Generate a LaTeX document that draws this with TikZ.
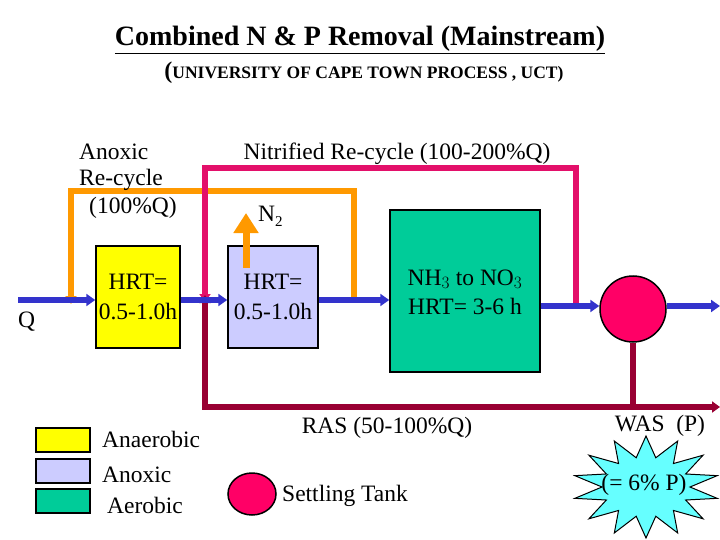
\documentclass[tikz,border=0pt]{standalone}
\usepackage{fontspec}
\setmainfont{Liberation Serif}
\usetikzlibrary{arrows.meta,shapes.geometric}
\definecolor{flowblue}{HTML}{3333CC}
\definecolor{recyorange}{HTML}{FF9900}
\definecolor{nitpink}{HTML}{E3106A}
\definecolor{rasred}{HTML}{990033}
\definecolor{anayellow}{HTML}{FFFF00}
\definecolor{anoxlav}{HTML}{CCCCFF}
\definecolor{aerogreen}{HTML}{00CC99}
\definecolor{tankpink}{HTML}{FF0066}
\definecolor{starcyan}{HTML}{66FFFF}
\begin{document}
\begin{tikzpicture}[x=1pt,y=-1pt,
  txt/.style={font=\fontsize{23.5}{29}\selectfont, inner sep=0pt, align=center},
  tank/.style={draw=black, line width=1.5pt, inner sep=0pt, align=center, font=\fontsize{23.5}{30}\selectfont},
  legbox/.style={draw=black, line width=1.5pt, minimum width=54pt, minimum height=24pt, inner sep=0pt},
  flow/.style={draw=flowblue, line width=6pt, -{Triangle[length=9pt,width=12pt]}},
  pipe/.style={line width=6pt}]
\useasboundingbox (0,0) rectangle (720,540);

% title
\node[inner sep=0pt] (title) at (360,40) {\fontsize{28}{28}\selectfont\bfseries\underline{Combined N \& P Removal (Mainstream)}};
\node[inner sep=0pt] (subtitle) at (364,73) {\bfseries{\fontsize{24}{24}\selectfont(}{\fontsize{17.5}{17.5}\selectfont UNIVERSITY OF CAPE TOWN PROCESS , UCT)}};

% tanks
\node[tank, fill=anayellow, minimum width=84pt, minimum height=102pt] (ana) at (138,297) {HRT=\\0.5-1.0h};
\node[tank, fill=anoxlav, minimum width=90pt, minimum height=102pt] (anox) at (273,297) {HRT=\\0.5-1.0h};
\node[tank, fill=aerogreen, minimum width=150pt, minimum height=162pt] (aero) at (465,291) {};
\node[txt] (aerotxt) at (465,292) {NH$_3$ to NO$_3$\\HRT= 3-6 h};
\node[circle, draw=black, line width=1.5pt, fill=tankpink, minimum size=66pt, inner sep=0pt] (clar) at (633,309) {};

% junction coordinates
\coordinate (qin) at (18,300);
\coordinate (jr) at (205,300);
\coordinate (jo) at (71,300);
\coordinate (orstart) at (354,300);
\coordinate (pkstart) at (576,306);
\coordinate (rasturn) at (633,407);
\coordinate (out) at (720,306);
\coordinate (wasout) at (720,407);

% recycle lines (drawn first)
\draw[pipe, draw=recyorange, -{Triangle[length=8pt,width=11pt]}] (orstart) -- (354,191) -- (71,191) -- ([yshift=-4pt]jo);
\draw[pipe, draw=nitpink, -{Triangle[length=8pt,width=11pt]}] (pkstart) -- (576,168) -- (205,168) -- ([yshift=-2pt]jr);
\draw[pipe, draw=rasred, -{Triangle[length=8pt,width=11pt]}] (clar.south) -- (rasturn) -- (205,407) -- ([yshift=5pt]jr);
\draw[pipe, draw=rasred, -{Triangle[length=8pt,width=11pt]}] (rasturn) -- (wasout);

% main flow
\draw[flow] (qin) -- (ana.west |- qin);
\draw[flow] (ana.east |- jr) -- (anox.west |- jr);
\draw[flow] (anox.east |- orstart) -- (aero.west |- orstart);
\draw[flow] (aero.east |- pkstart) -- (clar.west |- pkstart);
\draw[flow] (clar.east |- out) -- (out);

% N2 arrow
\coordinate (n2base) at (246,268);
\coordinate (n2tip) at (246,213);
\draw[draw=recyorange, line width=7pt, -{Triangle[length=20pt,width=24pt]}] (n2base) -- (n2tip);
\node[txt, anchor=west] (n2) at (258,216) {N\raisebox{-0.45ex}{\fontsize{15}{15}\selectfont 2}};

% labels
\node[txt, anchor=west] (q) at (18,322) {Q};
\node[txt, anchor=west] (ar1) at (79,152) {Anoxic};
\node[txt, anchor=west] (ar2) at (79,180) {Re-cycle};
\node[txt, anchor=west] (ar3) at (89,208) {(100\%Q)};
\node[txt] (nit) at (397,154) {Nitrified Re-cycle (100-200\%Q)};
\node[txt] (ras) at (387,428) {RAS (50-100\%Q)};
\node[txt] (was) at (660,426) {WAS\ \ (P)};

% star
\fill[starcyan, draw=black, line width=1pt]
  plot[samples=29, domain=0:28, variable=\k]
  ({646+(44+29*(1-mod(\k,2)))*cos(90+\k*360/28)},{487+(30+21*(1-mod(\k,2)))*sin(90+\k*360/28)}) -- cycle;
\node[txt] (wasp) at (644,485) {(= 6\% P)};

% legend
\node[legbox, fill=anayellow] (lg1) at (63,440) {};
\node[legbox, fill=anoxlav] (lg2) at (63,471) {};
\node[legbox, fill=aerogreen] (lg3) at (63,501) {};
\node[txt, anchor=west] (lt1) at (102,439) {Anaerobic};
\node[txt, anchor=west] (lt2) at (102,475) {Anoxic};
\node[txt, anchor=west] (lt3) at (107,505) {Aerobic};
\node[ellipse, draw=black, line width=1.5pt, fill=tankpink, minimum width=48pt, minimum height=42pt, inner sep=0pt] (lgc) at (252,494) {};
\node[txt, anchor=west] (lt4) at (282,496) {Settling Tank};
\end{tikzpicture}
\end{document}
